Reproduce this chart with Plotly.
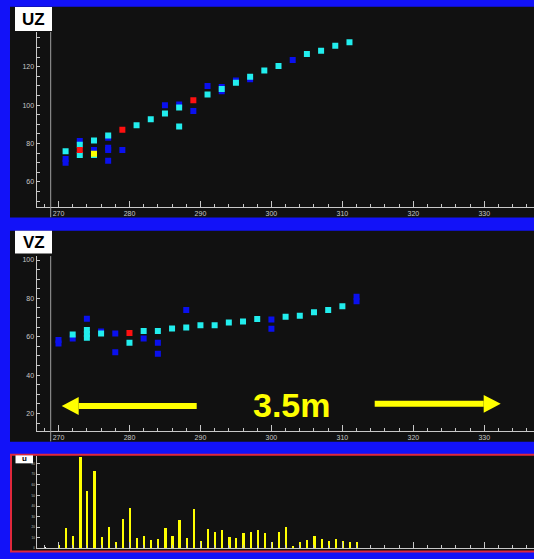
import plotly.graph_objects as go

W, H = 534, 559

# ---------------- data ----------------
uz_blue_x = [271, 271, 273, 275, 277, 277, 277, 277, 279, 285, 287, 289, 291, 293, 293, 295, 297, 303]
uz_blue_y = [72, 70, 81.3, 76.6, 83, 77.8, 76.6, 71, 76.6, 100, 100.3, 96.9, 110, 109.5, 107.3, 112.8, 113.5, 123.5]
uz_cyan_x = [271, 273, 273, 275, 275, 277, 281, 283, 285, 287, 287, 291, 293, 295, 297, 299, 301, 305, 307, 309, 311]
uz_cyan_y = [76, 79.4, 74, 81.6, 74, 84.2, 89.6, 92.7, 95.6, 98.8, 88.9, 105.5, 108.4, 111.7, 114.8, 118, 120.4, 126.6, 128.3, 130.9, 132.7]
uz_red_x = [273, 279, 289]
uz_red_y = [76.6, 87.2, 102.6]
uz_yellow_x = [275]
uz_yellow_y = [74.7]

vz_blue_x = [270, 270, 272, 274, 276, 278, 278, 282, 284, 284, 288, 300, 300, 312, 312]
vz_blue_y = [58.3, 56.5, 59.1, 69.4, 62.8, 61.7, 51.9, 59.1, 56.9, 51.2, 74, 69, 64.2, 80.8, 78.5]
vz_cyan_x = [272, 274, 274, 274, 276, 280, 282, 284, 286, 288, 290, 292, 294, 296, 298, 302, 304, 306, 308, 310]
vz_cyan_y = [61.2, 63.5, 61.5, 59.5, 61.7, 56.9, 63, 63, 64.3, 64.8, 66, 66, 67.4, 68, 69.2, 70.4, 70.9, 72.8, 74, 75.9]
vz_red_x = [280]
vz_red_y = [61.9]

u_x = list(range(270, 313))
u_y = [3.5, 19, 12, 86, 54, 73, 11, 20, 6, 28, 38, 10, 12, 8, 9, 19, 12, 27, 10, 37,
       7, 18, 15, 17, 11, 10, 14, 15, 17, 14, 6, 15, 20, 2, 6, 8, 12, 9, 7, 9, 7, 6, 6]
u_wide = [273, 287, 294, 306]
u_white_x = [268]
u_white_y = [1.5]

x_ticks = [270, 280, 290, 300, 310, 320, 330]
uz_ticks = [60, 80, 100, 120]
vz_ticks = [20, 40, 60, 80, 100]
u_ticks = [0, 10, 20, 30, 40, 50, 60, 70, 80]

# ---------------- helpers ----------------
def px(x):
    return x / W

def py(y):
    return 1 - y / H

BLUE_BG = "#1212f8"
PANEL = "#111111"
CYAN = "#22eeee"
MBLUE = "#0a10ee"
RED = "#ff1010"
YEL = "#ffff00"
AX = "#c8c8c8"
XR = [266.9, 337.0]

fig = go.Figure()

def scat(x, y, c, xa, ya):
    fig.add_trace(go.Scatter(x=x, y=y, mode="markers", xaxis=xa, yaxis=ya,
                             marker=dict(symbol="square", size=6, color=c, line=dict(width=0)),
                             showlegend=False, hoverinfo="skip"))

scat(uz_blue_x, uz_blue_y, MBLUE, "x", "y")
scat(uz_cyan_x, uz_cyan_y, CYAN, "x", "y")
scat(uz_red_x, uz_red_y, RED, "x", "y")
scat(uz_yellow_x, uz_yellow_y, YEL, "x", "y")

scat(vz_blue_x, vz_blue_y, MBLUE, "x2", "y2")
scat(vz_cyan_x, vz_cyan_y, CYAN, "x2", "y2")
scat(vz_red_x, vz_red_y, RED, "x2", "y2")

widths = [0.45 if v in u_wide else 0.3 for v in u_x]
fig.add_trace(go.Bar(x=u_x, y=u_y, width=widths, marker=dict(color=YEL, line=dict(width=0)),
                     xaxis="x3", yaxis="y3", showlegend=False, hoverinfo="skip"))
fig.add_trace(go.Bar(x=u_white_x, y=u_white_y, width=0.3, marker=dict(color="#ffffff", line=dict(width=0)),
                     xaxis="x3", yaxis="y3", showlegend=False, hoverinfo="skip"))

xdom = [px(36.5), 1]
tf = dict(family="Liberation Sans", size=7, color=AX)

def xaxis(anchor, labels=True):
    return dict(domain=xdom, range=XR, anchor=anchor, showgrid=False, zeroline=False,
                showline=True, linecolor=AX, linewidth=1,
                tickvals=x_ticks, ticktext=[str(v) for v in x_ticks] if labels else ["" for v in x_ticks],
                ticks="inside", ticklen=6, tickcolor=AX, tickwidth=1,
                minor=dict(dtick=2, tick0=0, ticks="inside", ticklen=3, tickcolor=AX, tickwidth=1),
                tickfont=tf, fixedrange=True)

def yaxis(anchor, dom, rng, tv, minor_dt, fsize=7):
    return dict(domain=dom, range=rng, anchor=anchor, showgrid=False, zeroline=False,
                showline=True, linecolor=AX, linewidth=1,
                tickvals=tv, ticktext=[str(v) for v in tv],
                ticks="inside", ticklen=3, tickcolor=AX, tickwidth=1,
                minor=dict(dtick=minor_dt, tick0=0, ticks="inside", ticklen=3, tickcolor=AX, tickwidth=1),
                tickfont=dict(family="Liberation Sans", size=fsize, color=AX), fixedrange=True)

shapes = []
# panels
shapes.append(dict(type="rect", xref="paper", yref="paper", x0=px(10), x1=1.01, y0=py(218.3), y1=py(6.7),
                   fillcolor=PANEL, line=dict(width=0), layer="below"))
shapes.append(dict(type="rect", xref="paper", yref="paper", x0=px(10), x1=1.01, y0=py(443.3), y1=py(231.5),
                   fillcolor=PANEL, line=dict(width=0), layer="below"))
shapes.append(dict(type="rect", xref="paper", yref="paper", x0=px(11), x1=1.01, y0=py(553.5), y1=py(456.5),
                   fillcolor=PANEL, line=dict(color="#e0283c", width=2), layer="below"))
# cursor lines
shapes.append(dict(type="line", xref="paper", yref="paper", x0=px(50.7), x1=px(50.7), y0=py(218), y1=py(32),
                   line=dict(color="#a0a0a0", width=1)))
shapes.append(dict(type="line", xref="paper", yref="paper", x0=px(50.7), x1=px(50.7), y0=py(443), y1=py(257),
                   line=dict(color="#a0a0a0", width=1)))
# label boxes
shapes.append(dict(type="rect", xref="paper", yref="paper", x0=px(15), x1=px(52), y0=py(31), y1=py(7),
                   fillcolor="white", line=dict(width=0)))
shapes.append(dict(type="rect", xref="paper", yref="paper", x0=px(15), x1=px(52), y0=py(254.5), y1=py(231.7),
                   fillcolor="white", line=dict(width=0)))
shapes.append(dict(type="rect", xref="paper", yref="paper", x0=px(15.5), x1=px(33), y0=py(465), y1=py(457),
                   fillcolor="white", line=dict(width=0)))

# arrows
def arrow(x_tail, x_tip, y, head_len=17, half_w=9, shaft=3):
    d = 1 if x_tip > x_tail else -1
    xb = x_tip - d * head_len
    shapes.append(dict(type="rect", xref="paper", yref="paper",
                       x0=px(min(x_tail, xb)), x1=px(max(x_tail, xb)), y0=py(y + shaft), y1=py(y - shaft),
                       fillcolor=YEL, line=dict(width=0)))
    path = "M {} {} L {} {} L {} {} Z".format(px(xb), py(y - half_w), px(x_tip), py(y), px(xb), py(y + half_w))
    shapes.append(dict(type="path", xref="paper", yref="paper", path=path, fillcolor=YEL, line=dict(width=0)))

arrow(196.7, 61.7, 407.5)
arrow(374.7, 500.7, 405.3)

def ann(text, x, y, size, color):
    return dict(text=text, x=px(x), y=py(y), xref="paper", yref="paper", showarrow=False,
                xanchor="center", yanchor="middle",
                font=dict(family="Liberation Sans", size=size, color=color))

annotations = [
    ann("<b>UZ</b>", 33.5, 19.5, 17, "black"),
    ann("<b>VZ</b>", 33.5, 243.5, 17, "black"),
    ann("<b>u</b>", 24, 460, 8, "black"),
    ann("<b>3.5m</b>", 291.7, 406, 34, YEL),
]

fig.update_layout(
    width=W, height=H, margin=dict(l=0, r=0, t=0, b=0),
    paper_bgcolor=BLUE_BG, plot_bgcolor="rgba(0,0,0,0)",
    bargap=0, barmode="overlay",
    xaxis=xaxis("y"),
    yaxis=yaxis("x", [py(207.3), py(32.3)], [47.2, 138.0], uz_ticks, 5),
    xaxis2=xaxis("y2"),
    yaxis2=yaxis("x2", [py(432.3), py(257.3)], [11.0, 101.9], vz_ticks, 5),
    xaxis3=xaxis("y3", labels=False),
    yaxis3=yaxis("x3", [py(550.3), py(457.7)], [0, 87.3], u_ticks, 10, fsize=3),
    shapes=shapes, annotations=annotations, showlegend=False,
)

fig.write_html("out.html", config={"displayModeBar": False})
